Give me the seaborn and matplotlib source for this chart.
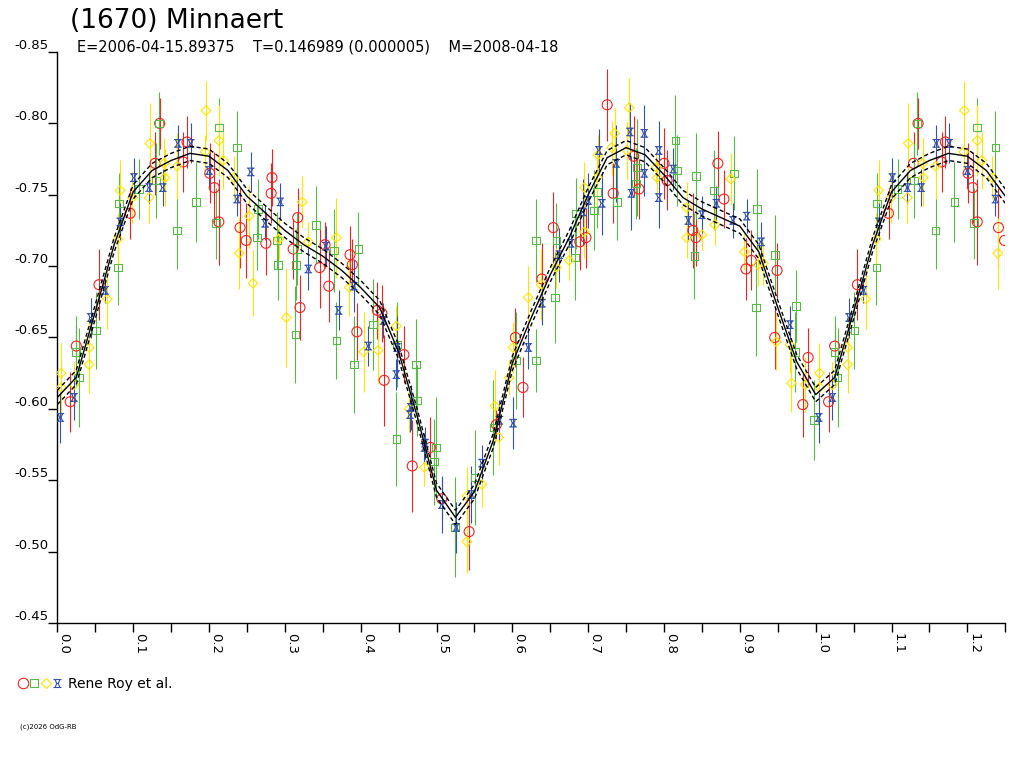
import numpy as np
import pandas as pd
import matplotlib
matplotlib.use("Agg")
import matplotlib.pyplot as plt
import seaborn as sns
from matplotlib.path import Path
from matplotlib.lines import Line2D
from matplotlib.ticker import MultipleLocator, FormatStrFormatter

# ---------------------------------------------------------
# Data (phase, reduced magnitude, error)
# ---------------------------------------------------------
red_phase = [0.017, 0.025, 0.055, 0.096, 0.129, 0.135, 0.166, 0.171, 0.201, 0.207,
             0.213, 0.241, 0.249, 0.282, 0.283, 0.275, 0.317, 0.311, 0.320, 0.346,
             0.358, 0.353, 0.386, 0.389, 0.395, 0.422, 0.428, 0.431, 0.457, 0.468,
             0.492, 0.507, 0.543, 0.579, 0.614, 0.604, 0.639, 0.654, 0.689, 0.697,
             0.725, 0.733, 0.760, 0.767, 0.800, 0.804, 0.838, 0.842, 0.871, 0.879,
             0.908, 0.915, 0.949, 0.946, 0.983, 0.990]
red_mag = [-0.605, -0.644, -0.687, -0.737, -0.772, -0.800, -0.773, -0.787, -0.765, -0.755,
           -0.731, -0.727, -0.718, -0.751, -0.762, -0.716, -0.734, -0.712, -0.671, -0.699,
           -0.686, -0.715, -0.708, -0.701, -0.654, -0.669, -0.667, -0.620, -0.638, -0.560,
           -0.573, -0.537, -0.514, -0.589, -0.615, -0.650, -0.691, -0.727, -0.717, -0.720,
           -0.813, -0.751, -0.777, -0.754, -0.772, -0.760, -0.725, -0.720, -0.772, -0.747,
           -0.698, -0.704, -0.697, -0.650, -0.603, -0.636]
red_err = [0.021, 0.014, 0.025, 0.018, 0.022, 0.018, 0.021, 0.018, 0.021, 0.025,
           0.030, 0.028, 0.026, 0.021, 0.020, 0.022, 0.021, 0.021, 0.023, 0.028,
           0.025, 0.016, 0.020, 0.018, 0.020, 0.020, 0.020, 0.032, 0.020, 0.032,
           0.021, 0.014, 0.027, 0.010, 0.021, 0.021, 0.025, 0.025, 0.020, 0.021,
           0.025, 0.021, 0.028, 0.021, 0.025, 0.021, 0.026, 0.020, 0.023, 0.020,
           0.022, 0.021, 0.019, 0.022, 0.023, 0.021]

green_phase = [0.029, 0.025, 0.051, 0.080, 0.081, 0.108, 0.130, 0.134, 0.158, 0.183,
               0.209, 0.213, 0.237, 0.265, 0.263, 0.290, 0.291, 0.316, 0.315, 0.341,
               0.314, 0.365, 0.368, 0.397, 0.391, 0.416, 0.448, 0.473, 0.474, 0.447,
               0.499, 0.497, 0.524, 0.551, 0.575, 0.605, 0.631, 0.631, 0.658, 0.656,
               0.684, 0.683, 0.708, 0.712, 0.738, 0.764, 0.763, 0.815, 0.817, 0.842,
               0.840, 0.866, 0.892, 0.923, 0.921, 0.946, 0.974, 0.973, 0.998]
green_mag = [-0.622, -0.640, -0.655, -0.699, -0.744, -0.754, -0.760, -0.800, -0.725, -0.745,
             -0.730, -0.797, -0.783, -0.740, -0.720, -0.718, -0.701, -0.712, -0.701, -0.729,
             -0.652, -0.711, -0.648, -0.712, -0.631, -0.659, -0.645, -0.631, -0.606, -0.579,
             -0.573, -0.563, -0.517, -0.552, -0.587, -0.634, -0.634, -0.718, -0.718, -0.678,
             -0.737, -0.706, -0.739, -0.752, -0.745, -0.769, -0.758, -0.788, -0.767, -0.763,
             -0.707, -0.753, -0.765, -0.740, -0.671, -0.708, -0.672, -0.640, -0.592]
green_err = [0.035, 0.025, 0.027, 0.026, 0.021, 0.021, 0.026, 0.022, 0.027, 0.028,
             0.025, 0.021, 0.026, 0.021, 0.023, 0.020, 0.025, 0.025, 0.025, 0.027,
             0.034, 0.029, 0.027, 0.026, 0.034, 0.032, 0.030, 0.032, 0.025, 0.033,
             0.035, 0.030, 0.035, 0.033, 0.033, 0.034, 0.022, 0.029, 0.026, 0.032,
             0.025, 0.030, 0.028, 0.025, 0.027, 0.034, 0.025, 0.032, 0.025, 0.030,
             0.030, 0.028, 0.026, 0.028, 0.034, 0.028, 0.025, 0.028, 0.028]

yellow_phase = [0.005, 0.005, 0.022, 0.042, 0.042, 0.066, 0.080, 0.083, 0.099, 0.121,
                0.122, 0.142, 0.141, 0.158, 0.196, 0.195, 0.213, 0.219, 0.233, 0.240,
                0.253, 0.258, 0.323, 0.292, 0.331, 0.368, 0.302, 0.385, 0.404, 0.423,
                0.447, 0.464, 0.484, 0.540, 0.540, 0.560, 0.577, 0.582, 0.596, 0.601,
                0.621, 0.638, 0.658, 0.675, 0.695, 0.695, 0.713, 0.712, 0.731, 0.735,
                0.754, 0.751, 0.790, 0.791, 0.830, 0.830, 0.850, 0.867, 0.888, 0.906,
                0.924, 0.931, 0.948, 0.966, 0.968, 0.986]
yellow_mag = [-0.625, -0.615, -0.617, -0.643, -0.631, -0.677, -0.719, -0.753, -0.748, -0.748,
              -0.786, -0.762, -0.772, -0.770, -0.809, -0.780, -0.788, -0.774, -0.762, -0.709,
              -0.735, -0.688, -0.745, -0.719, -0.717, -0.720, -0.664, -0.685, -0.640, -0.641,
              -0.658, -0.600, -0.559, -0.539, -0.507, -0.547, -0.602, -0.580, -0.622, -0.643,
              -0.678, -0.687, -0.699, -0.704, -0.755, -0.724, -0.778, -0.762, -0.783, -0.793,
              -0.811, -0.781, -0.769, -0.762, -0.741, -0.720, -0.722, -0.729, -0.761, -0.710,
              -0.701, -0.702, -0.647, -0.645, -0.618, -0.617]
yellow_err = [0.021, 0.020, 0.016, 0.021, 0.020, 0.021, 0.018, 0.021, 0.018, 0.018,
              0.028, 0.020, 0.018, 0.023, 0.021, 0.012, 0.025, 0.020, 0.015, 0.025,
              0.022, 0.023, 0.018, 0.014, 0.014, 0.028, 0.035, 0.020, 0.028, 0.023,
              0.014, 0.016, 0.013, 0.020, 0.022, 0.016, 0.025, 0.019, 0.012, 0.018,
              0.022, 0.025, 0.014, 0.014, 0.018, 0.018, 0.014, 0.020, 0.019, 0.018,
              0.021, 0.020, 0.011, 0.012, 0.018, 0.014, 0.011, 0.014, 0.018, 0.013,
              0.015, 0.015, 0.020, 0.020, 0.020, 0.019]

blue_phase = [0.004, 0.022, 0.044, 0.063, 0.083, 0.101, 0.121, 0.139, 0.159, 0.176,
              0.200, 0.237, 0.255, 0.294, 0.274, 0.331, 0.354, 0.371, 0.391, 0.410,
              0.430, 0.448, 0.447, 0.466, 0.465, 0.485, 0.484, 0.507, 0.526, 0.546,
              0.560, 0.583, 0.601, 0.621, 0.639, 0.662, 0.677, 0.693, 0.700, 0.714,
              0.718, 0.737, 0.755, 0.757, 0.774, 0.774, 0.793, 0.793, 0.812, 0.832,
              0.850, 0.869, 0.891, 0.909, 0.928, 0.966]
blue_mag = [-0.594, -0.608, -0.664, -0.683, -0.731, -0.762, -0.755, -0.755, -0.786, -0.786,
            -0.767, -0.747, -0.766, -0.745, -0.730, -0.698, -0.714, -0.669, -0.686, -0.644,
            -0.662, -0.643, -0.624, -0.601, -0.596, -0.576, -0.573, -0.533, -0.517, -0.540,
            -0.562, -0.592, -0.590, -0.643, -0.674, -0.708, -0.716, -0.738, -0.746, -0.781,
            -0.744, -0.772, -0.794, -0.751, -0.793, -0.765, -0.781, -0.748, -0.768, -0.732,
            -0.736, -0.744, -0.732, -0.735, -0.717, -0.659]
blue_err = [0.018, 0.016, 0.014, 0.009, 0.013, 0.014, 0.011, 0.013, 0.013, 0.014,
            0.012, 0.012, 0.014, 0.013, 0.012, 0.015, 0.014, 0.014, 0.018, 0.014,
            0.012, 0.022, 0.011, 0.016, 0.012, 0.011, 0.010, 0.020, 0.018, 0.020,
            0.013, 0.014, 0.018, 0.015, 0.015, 0.019, 0.012, 0.023, 0.019, 0.015,
            0.022, 0.027, 0.020, 0.026, 0.020, 0.016, 0.021, 0.021, 0.015, 0.014,
            0.013, 0.012, 0.012, 0.012, 0.014, 0.013]

# Fourier fit, every 0.025 in phase
fit_phase = [0.000, 0.025, 0.050, 0.075, 0.100, 0.125, 0.150, 0.175, 0.200, 0.225,
             0.250, 0.275, 0.300, 0.325, 0.350, 0.375, 0.400, 0.425, 0.450, 0.475,
             0.500, 0.525, 0.550, 0.575, 0.600, 0.625, 0.650, 0.675, 0.700, 0.725,
             0.750, 0.775, 0.800, 0.825, 0.850, 0.875, 0.900, 0.925, 0.950, 0.975, 1.000]
fit_mag = [-0.608, -0.622, -0.668, -0.715, -0.752, -0.767, -0.774, -0.779, -0.777, -0.767,
           -0.749, -0.737, -0.725, -0.715, -0.707, -0.697, -0.685, -0.671, -0.640, -0.594,
           -0.543, -0.524, -0.542, -0.578, -0.632, -0.664, -0.694, -0.720, -0.750, -0.776,
           -0.783, -0.778, -0.764, -0.748, -0.740, -0.734, -0.728, -0.710, -0.671, -0.633, -0.610]
fit_sigma = 0.005

series = [
    ("red", red_phase, red_mag, red_err),
    ("green", green_phase, green_mag, green_err),
    ("yellow", yellow_phase, yellow_mag, yellow_err),
    ("blue", blue_phase, blue_mag, blue_err),
]

# blue symbol: bars top/bottom with pinched sides
hourglass = Path(
    [(-1, 1), (1, 1), (-1, -1), (1, -1),
     (-0.6, 1), (-0.2, 0), (-0.6, -1),
     (0.6, 1), (0.2, 0), (0.6, -1),
     (-0.2, 0), (0.2, 0)],
    [Path.MOVETO, Path.LINETO, Path.MOVETO, Path.LINETO,
     Path.MOVETO, Path.LINETO, Path.LINETO,
     Path.MOVETO, Path.LINETO, Path.LINETO,
     Path.MOVETO, Path.LINETO])

style = {
    "red": ("#EE2424", "o", 52),
    "green": ("#58B848", "s", 30),
    "yellow": ("#FFE400", "D", 24),
    "blue": ("#3452A8", hourglass, 30),
}

frames = []
for name, ph, mg, er in series:
    frames.append(pd.DataFrame({"series": name, "phase": ph, "mag": mg, "err": er}))
df = pd.concat(frames, ignore_index=True)
# phases repeated past 1.0, as in the original plot
wrap = df[df["phase"] <= 0.25].assign(phase=lambda d: d["phase"] + 1.0)
df = pd.concat([df, wrap], ignore_index=True)

fit = pd.DataFrame({"phase": fit_phase, "mag": fit_mag})
fit_wrap = fit[(fit["phase"] > 0) & (fit["phase"] <= 0.25)].assign(phase=lambda d: d["phase"] + 1.0)
fit = pd.concat([fit, fit_wrap], ignore_index=True)

# ---------------------------------------------------------
# Plot
# ---------------------------------------------------------
sns.set_style("ticks")
plt.rcParams["font.family"] = ["DejaVu Sans"]
plt.rcParams["text.color"] = "black"
plt.rcParams["xtick.color"] = "black"
plt.rcParams["ytick.color"] = "black"

fig = plt.figure(figsize=(10.24, 7.68), dpi=100)
ax = fig.add_axes([57.3 / 1024, 1 - 623 / 768, 948 / 1024, 571 / 768])

for name, _, _, _ in series:
    color, marker, size = style[name]
    sub = df[df["series"] == name]
    ax.errorbar(sub["phase"], sub["mag"], yerr=sub["err"], fmt="none",
                ecolor=color, elinewidth=0.8, capsize=0, zorder=2)
    sns.scatterplot(data=sub, x="phase", y="mag", marker=marker, s=size,
                    color=color, facecolor="none", edgecolor=color,
                    linewidth=0.8, ax=ax, legend=False, zorder=3)

sns.lineplot(x=fit["phase"], y=fit["mag"], color="black", lw=1.0, ax=ax, zorder=4)
sns.lineplot(x=fit["phase"], y=fit["mag"] - fit_sigma, color="black", lw=1.0, ax=ax, zorder=4)
sns.lineplot(x=fit["phase"], y=fit["mag"] + fit_sigma, color="black", lw=1.0, ax=ax, zorder=4)
for ln in ax.lines[-2:]:
    ln.set_linestyle((0, (3, 2)))

ax.set_xlim(0, 1.25)
ax.set_ylim(-0.45, -0.85)
ax.set_xlabel("")
ax.set_ylabel("")

ax.xaxis.set_major_locator(MultipleLocator(0.1))
ax.xaxis.set_minor_locator(MultipleLocator(0.05))
ax.xaxis.set_major_formatter(FormatStrFormatter("%.1f"))
ax.yaxis.set_major_locator(MultipleLocator(0.05))
ax.yaxis.set_major_formatter(FormatStrFormatter("%.2f"))

ax.tick_params(axis="both", which="both", direction="out", length=6.5,
               width=1, color="black", labelcolor="black", labelsize=9.5)
ax.tick_params(axis="y", pad=0)
ax.tick_params(axis="x", pad=1)
for lbl in ax.get_xticklabels():
    lbl.set_rotation(270)
    lbl.set_ha("left")
    lbl.set_va("top")
for lbl in ax.get_yticklabels():
    lbl.set_va("bottom")

sns.despine(ax=ax)
for sp in ("left", "bottom"):
    ax.spines[sp].set_color("black")
    ax.spines[sp].set_linewidth(1)

# header
fig.text(70 / 1024, 1 - 28 / 768, "(1670) Minnaert", fontsize=19, va="baseline")
fig.text(77 / 1024, 1 - 51 / 768,
         "E=2006-04-15.89375    T=0.146989 (0.000005)    M=2008-04-18",
         fontsize=10.5, va="baseline")

# legend row under the chart
leg_y = 1 - 683 / 768
for xpix, name in zip([22.5, 34, 45.5, 57], ["red", "green", "yellow", "blue"]):
    color, marker, size = style[name]
    fig.add_artist(Line2D([xpix / 1024], [leg_y], transform=fig.transFigure,
                          marker=marker, markersize=np.sqrt(size) * 1.05,
                          markerfacecolor="none", markeredgecolor=color,
                          markeredgewidth=0.8, linestyle="none"))
fig.text(68 / 1024, 1 - 688 / 768, "Rene Roy et al.", fontsize=10, va="baseline")
fig.text(20 / 1024, 1 - 728 / 768, "(c)2026 OdG-RB", fontsize=5, va="baseline")

fig.savefig("out.png", dpi=100)
